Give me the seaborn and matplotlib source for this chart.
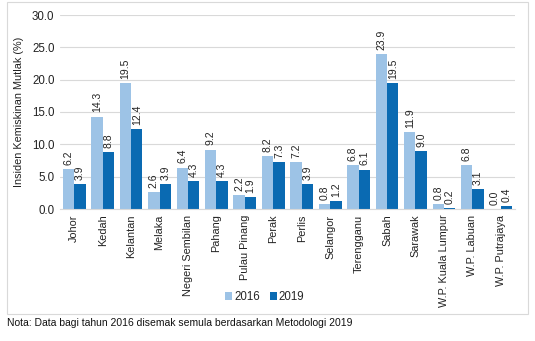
import matplotlib
matplotlib.use("Agg")
import matplotlib.pyplot as plt
from matplotlib.patches import Rectangle, Patch
import seaborn as sns
import pandas as pd

states = ["Johor", "Kedah", "Kelantan", "Melaka", "Negeri Sembilan", "Pahang",
          "Pulau Pinang", "Perak", "Perlis", "Selangor", "Terengganu", "Sabah",
          "Sarawak", "W.P. Kuala Lumpur", "W.P. Labuan", "W.P. Putrajaya"]
y2016 = [6.2, 14.3, 19.5, 2.6, 6.4, 9.2, 2.2, 8.2, 7.2, 0.8, 6.8, 23.9, 11.9, 0.8, 6.8, 0.0]
y2019 = [3.9, 8.8, 12.4, 3.9, 4.3, 4.3, 1.9, 7.3, 3.9, 1.2, 6.1, 19.5, 9.0, 0.2, 3.1, 0.4]
years = ["2016", "2019"]
colors = ["#9DC3E6", "#0A6AB2"]

df = pd.DataFrame({
    "Negeri": states * 2,
    "Tahun": [years[0]] * len(states) + [years[1]] * len(states),
    "Nilai": y2016 + y2019,
})

sns.set_theme(style="white")
plt.rcParams["font.family"] = ["Liberation Sans", "DejaVu Sans"]

fig = plt.figure(figsize=(5.35, 3.41), dpi=100)
W, H = 535, 341
ax = fig.add_axes([60 / W, 1 - 209 / H, 455 / W, 194 / H])

sns.barplot(data=df, x="Negeri", y="Nilai", hue="Tahun", palette=colors,
            width=0.8, saturation=1, ax=ax, legend=False, errorbar=None,
            linewidth=0)

for cont in ax.containers:
    ax.bar_label(cont, fmt="%.1f", rotation=90, padding=3, fontsize=7.5,
                 color="#222222")

ax.set_ylim(0, 30)
ax.set_yticks(range(0, 31, 5))
ax.set_yticklabels([f"{v:.1f}" for v in range(0, 31, 5)], fontsize=8.3,
                   color="#222222")
ax.set_xlim(-0.5, len(states) - 0.5)
ax.set_xticks(range(len(states)))
ax.set_xticklabels(states, rotation=90, fontsize=7.8, color="#222222")
ax.tick_params(axis="both", length=0, pad=4)
ax.set_xlabel("")
ax.set_ylabel("Insiden Kemiskinan Mutlak (%)", fontsize=7.8, color="#222222",
              labelpad=6)
ax.yaxis.grid(True, color="#D9D9D9", linewidth=0.8)
ax.set_axisbelow(True)
for s in ["top", "right", "left"]:
    ax.spines[s].set_visible(False)
ax.spines["bottom"].set_color("#D9D9D9")
ax.spines["bottom"].set_linewidth(0.8)

handles = [Patch(facecolor=c, edgecolor="none") for c in colors]
fig.legend(handles, years, loc="center", bbox_to_anchor=(265 / W, 1 - 297 / H),
           ncol=2, frameon=False, fontsize=8.3, handlelength=0.6,
           handleheight=0.6, handletextpad=0.2, columnspacing=0.8)

fig.patches.append(Rectangle((7 / W, 1 - 314 / H), 521 / W, 312 / H,
                             transform=fig.transFigure, fill=False,
                             edgecolor="#D9D9D9", linewidth=0.8))

fig.text(7 / W, 1 - 323 / H,
         "Nota: Data bagi tahun 2016 disemak semula berdasarkan Metodologi 2019",
         fontsize=7.5, color="#111111", ha="left", va="center")

fig.savefig("out.png", dpi=100)
